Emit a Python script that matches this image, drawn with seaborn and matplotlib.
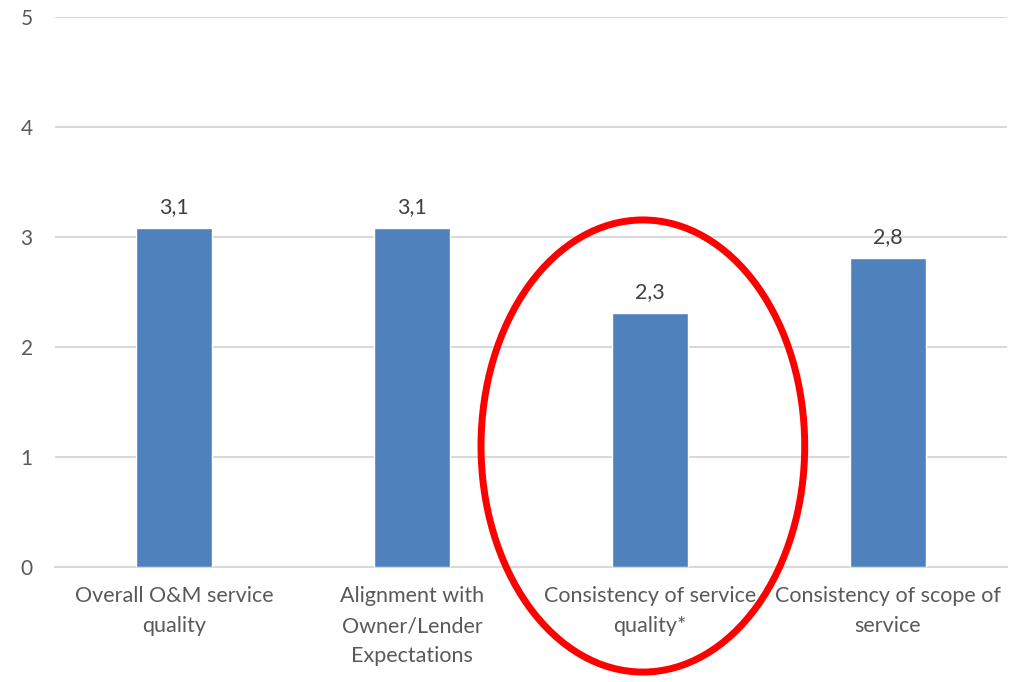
import matplotlib
matplotlib.use("Agg")
import matplotlib.pyplot as plt
import seaborn as sns
import pandas as pd
from matplotlib.patches import Ellipse

categories = ["Overall O&M service\nquality",
              "Alignment with\nOwner/Lender\nExpectations",
              "Consistency of service\nquality*",
              "Consistency of scope of\nservice"]
values = [3.08, 3.08, 2.31, 2.81]
value_labels = ["3,1", "3,1", "2,3", "2,8"]
y_ticks = [0, 1, 2, 3, 4, 5]

sns.set_style("white")
plt.rcParams['font.family'] = ['Lato', 'DejaVu Sans']

df = pd.DataFrame({"cat": categories, "val": values})

fig = plt.figure(figsize=(10.19, 6.82), dpi=100)
ax = fig.add_axes([55/1019, (682-567)/682, (1007-55)/1019, (567-17)/682])

sns.barplot(data=df, x="cat", y="val", color="#4F81BD", width=0.32,
            saturation=1, ax=ax, zorder=3)

ax.set_ylim(0, 5)
ax.set_xlim(-0.5, 3.5)
ax.set_yticks(y_ticks)
ax.set_yticklabels([str(t) for t in y_ticks])
ax.yaxis.grid(True, color="#D9D9D9", linewidth=1.5, zorder=0)
ax.set_axisbelow(True)
for s in ["top", "right", "left"]:
    ax.spines[s].set_visible(False)
ax.spines["bottom"].set_color("#D9D9D9")
ax.spines["bottom"].set_linewidth(1.5)
ax.set_xlabel("")
ax.set_ylabel("")
ax.tick_params(axis="y", length=0, pad=16, labelsize=15, labelcolor="#595959")
ax.tick_params(axis="x", length=0, pad=14, labelsize=15.5, labelcolor="#595959")
for lbl in ax.get_xticklabels():
    lbl.set_linespacing(1.62)

ax.bar_label(ax.containers[0], labels=value_labels, padding=8,
             fontsize=15.5, color="#404040")

ell = Ellipse((1.97, 1.1), width=1.36, height=4.11, fill=False,
              edgecolor="#FF0000", linewidth=5, clip_on=False, zorder=5)
ax.add_patch(ell)

fig.savefig("out.png", dpi=100)
